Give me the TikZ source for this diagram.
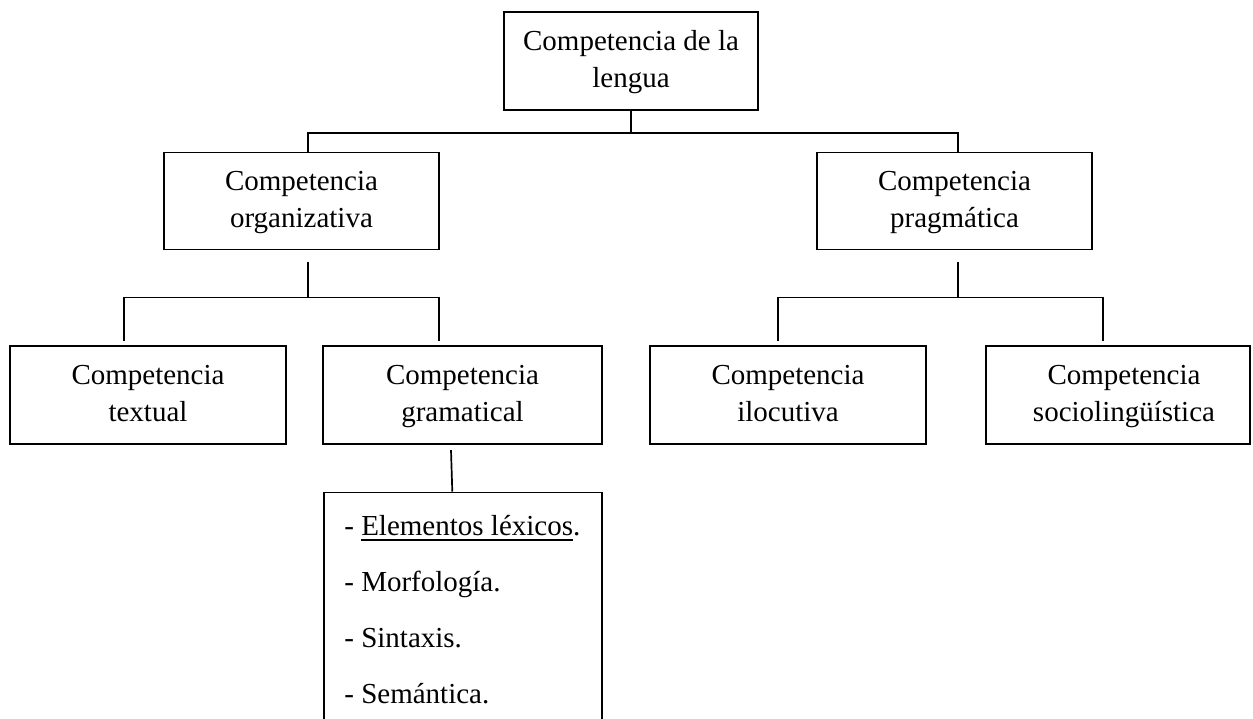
\documentclass[tikz,border=0pt]{standalone}
\usepackage{fontspec}
\setmainfont{Liberation Serif}
\usetikzlibrary{calc}
\tikzset{
  box/.style={draw, line width=1.7pt, align=center, inner sep=0pt,
              font=\fontsize{29}{37}\selectfont},
  label text/.style={align=center, inner sep=0pt, font=\fontsize{29}{37}\selectfont},
  conn/.style={line width=1.7pt},
  item/.style={anchor=base west, inner sep=0pt, font=\fontsize{29}{36}\selectfont},
}
\newsavebox\ulbox
\newcommand{\myul}[1]{\sbox\ulbox{#1}\rlap{\rule[-6pt]{\wd\ulbox}{1.8pt}}\usebox\ulbox}
% strut: height 22pt, depth 6.5pt
\newcommand{\st}{\rule[-6.5pt]{0pt}{28.5pt}}
\begin{document}
\begin{tikzpicture}[x=1pt,y=-1pt]
\clip (0,0) rectangle (1253,718);
\fill[white] (0,0) rectangle (1253,718);
% boxes
\node[box, minimum width=254, minimum height=98] (top) at (631,61) {\st Competencia de la\\\st lengua};
\node[box, minimum width=275, minimum height=97] (org) at (301.5,201) {\st Competencia\\\st organizativa};
\node[box, minimum width=275, minimum height=97] (prag) at (954.5,201) {\st Competencia\\\st pragmática};
\node[box, minimum width=276, minimum height=98] (text) at (148,395) {\st Competencia\\\st textual};
\node[box, minimum width=279, minimum height=98] (gram) at (462.5,395) {\st Competencia\\\st gramatical};
\node[box, minimum width=276, minimum height=98] (ilo) at (788,395) {\st Competencia\\\st ilocutiva};
\node[box, minimum width=264, minimum height=98] (soc) at (1118,395) {};
\node[label text] (soct) at ($(soc.center)+(6,0)$) {\st Competencia\\\st sociolingüística};
\node[box, anchor=north, minimum width=278, minimum height=260] (lst) at (463,491.7) {};
% list items
\node[item] (i1) at ($(lst.north west)+(21,43.3)$) {- \myul{Elementos léxicos}.};
\node[item] (i2) at ($(lst.north west)+(21,99.3)$) {- Morfología.};
\node[item] (i3) at ($(lst.north west)+(21,155.3)$) {- Sintaxis.};
\node[item] (i4) at ($(lst.north west)+(21,211.3)$) {- Semántica.};
% connectors level 1
\coordinate (j0) at ($(top.south)+(0,22)$);
\draw[conn] (top.south) -- (j0);
\draw[conn] ([xshift=6.5pt]org.north) |- (j0) -| ([xshift=3.5pt]prag.north);
% level 2 left
\coordinate (j1) at ($(org.south)+(6.5,47.2)$);
\draw[conn] ($(org.south)+(6.5,11.2)$) -- (j1);
\draw[conn] ($(text.north)+(-24,-4.3)$) |- (j1) -| ($(gram.north)+(-23.5,-4.3)$);
% level 2 right
\coordinate (j2) at ($(prag.south)+(3.5,47.2)$);
\draw[conn] ($(prag.south)+(3.5,11.2)$) -- (j2);
\draw[conn] ($(ilo.north)+(-10.3,-4.3)$) |- (j2) -| ($(soc.north)+(-15.3,-4.3)$);
% level 3
\draw[conn] ($(gram.south)+(-11.5,5.3)$) -- ($(lst.north)+(-10.7,0)$);
\end{tikzpicture}
\end{document}
